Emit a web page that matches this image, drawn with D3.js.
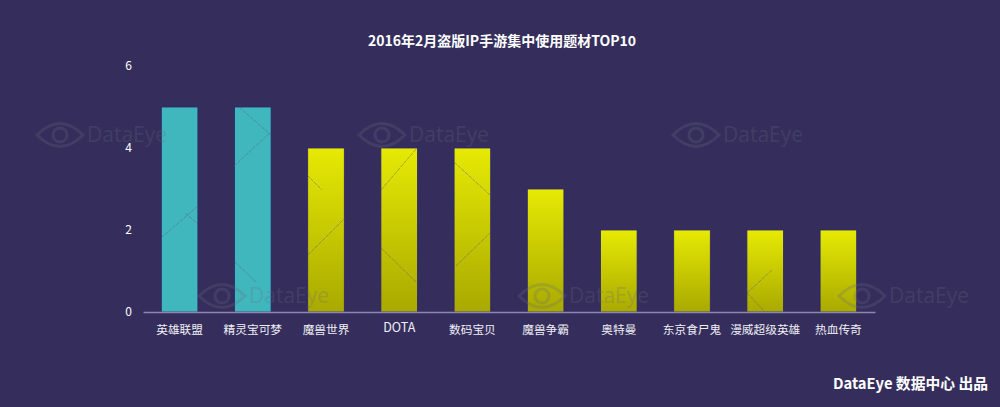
<!DOCTYPE html>
<html>
<head>
<meta charset="utf-8">
<script src="https://cdn.jsdelivr.net/npm/d3@7"></script>
<style>
  html, body { margin: 0; padding: 0; background: #352e5c; }
  text { font-family: "Noto Sans CJK SC", "Noto Sans", sans-serif; }
</style>
</head>
<body>
<div id="chart"></div>
<script>
var categories = ["英雄联盟", "精灵宝可梦", "魔兽世界", "DOTA", "数码宝贝", "魔兽争霸", "奥特曼", "东京食尸鬼", "漫威超级英雄", "热血传奇"];
var values = [5, 5, 4, 4, 4, 3, 2, 2, 2, 2];
var highlighted = ["英雄联盟", "精灵宝可梦"];
var yTicks = [0, 2, 4, 6];
var chartTitle = "2016年2月盗版IP手游集中使用题材TOP10";
var footer = "DataEye 数据中心 出品";

var w = 1000, h = 407;

var x = d3.scaleBand().domain(categories).range([143, 875]).paddingInner(0.5).paddingOuter(0.25);
var y = d3.scaleLinear().domain([0, 6]).range([312, 66]);

var svg = d3.select("#chart").append("svg")
  .attr("width", w).attr("height", h)
  .style("display", "block");

svg.append("rect").attr("width", w).attr("height", h).attr("fill", "#352e5c");

var grad = svg.append("defs").append("linearGradient")
  .attr("id", "yellow").attr("x1", 0).attr("y1", 0).attr("x2", 0).attr("y2", 1);
grad.append("stop").attr("offset", "0%").attr("stop-color", "#e6ea04");
grad.append("stop").attr("offset", "100%").attr("stop-color", "#a9a900");

svg.append("text")
  .attr("x", 502).attr("y", 46)
  .attr("text-anchor", "middle")
  .attr("font-size", 14).attr("font-weight", 700)
  .attr("fill", "#ffffff")
  .text(chartTitle);

// bars
svg.selectAll("rect.bar")
  .data(categories)
  .enter()
  .append("rect")
  .attr("class", "bar")
  .attr("x", function(d) { return x(d); })
  .attr("y", function(d, i) { return y(values[i]); })
  .attr("width", x.bandwidth())
  .attr("height", function(d, i) { return y(0) - y(values[i]); })
  .attr("fill", function(d) { return highlighted.indexOf(d) >= 0 ? "#40b7bd" : "url(#yellow)"; })
  .attr("stroke", "#2a2470")
  .attr("stroke-width", 0.8);

// axes
var yAxis = d3.axisLeft(y).tickValues(yTicks).tickSize(0).tickPadding(0).tickFormat(d3.format("d"));
var gy = svg.append("g").attr("transform", "translate(132,0)").call(yAxis);
gy.select(".domain").remove();
gy.selectAll("text")
  .attr("font-size", 12).attr("fill", "#ffffff")
  .style("font-family", '"Noto Sans CJK SC", sans-serif');

var xAxis = d3.axisBottom(x).tickSize(0).tickPadding(14);
var gx = svg.append("g").attr("transform", "translate(0,312)").call(xAxis);
gx.select(".domain").attr("stroke", "#8f86ad").attr("stroke-width", 1.5);
gx.selectAll("text")
  .attr("font-size", function(d) { return d === "DOTA" ? 12.5 : 11.7; })
  .attr("dy", function(d) { return d === "DOTA" ? "0.45em" : "0.71em"; })
  .attr("fill", "#f0eef5")
  .style("font-family", '"Noto Sans CJK SC", sans-serif');

// watermark
var marks = [[36, 135], [358, 135], [672, 135], [198, 296], [518, 296], [838, 296]];
var wm = svg.selectAll("g.wm").data(marks).enter().append("g")
  .attr("class", "wm")
  .attr("transform", function(d) { return "translate(" + d[0] + "," + d[1] + ")"; })
  .attr("opacity", 0.25);
wm.append("path")
  .attr("d", "M1 0Q24 -23 47 0Q24 23 1 0Z")
  .attr("fill", "none").attr("stroke", "#6b6b80").attr("stroke-width", 3);
wm.append("circle").attr("cx", 24).attr("cy", 0).attr("r", 7)
  .attr("fill", "none").attr("stroke", "#6b6b80").attr("stroke-width", 3);
wm.append("text").attr("x", 51).attr("y", 7)
  .attr("font-size", 21).attr("fill", "#6b6b80")
  .style("font-family", '"Open Sans", sans-serif')
  .text("DataEye");

var cross = [[234, 166, 271, 132], [239, 107, 271, 135], [307, 175, 322, 190], [381, 190, 417, 148],
  [454, 162, 490, 195], [161, 238, 198, 206], [185, 213, 198, 224], [235, 262, 256, 282],
  [308, 255, 345, 218], [381, 248, 417, 283], [456, 266, 490, 233], [747, 293, 772, 270], [747, 293, 765, 312]];
svg.selectAll("line.cross").data(cross).enter().append("line")
  .attr("class", "cross")
  .attr("x1", function(d) { return d[0]; }).attr("y1", function(d) { return d[1]; })
  .attr("x2", function(d) { return d[2]; }).attr("y2", function(d) { return d[3]; })
  .attr("stroke", "#5a5a70").attr("stroke-opacity", 0.45)
  .attr("stroke-dasharray", "4,1");

svg.append("text")
  .attr("x", 988).attr("y", 389)
  .attr("text-anchor", "end")
  .attr("font-size", 14.8).attr("font-weight", 700)
  .attr("fill", "#ffffff")
  .text(footer);
</script>
</body>
</html>
